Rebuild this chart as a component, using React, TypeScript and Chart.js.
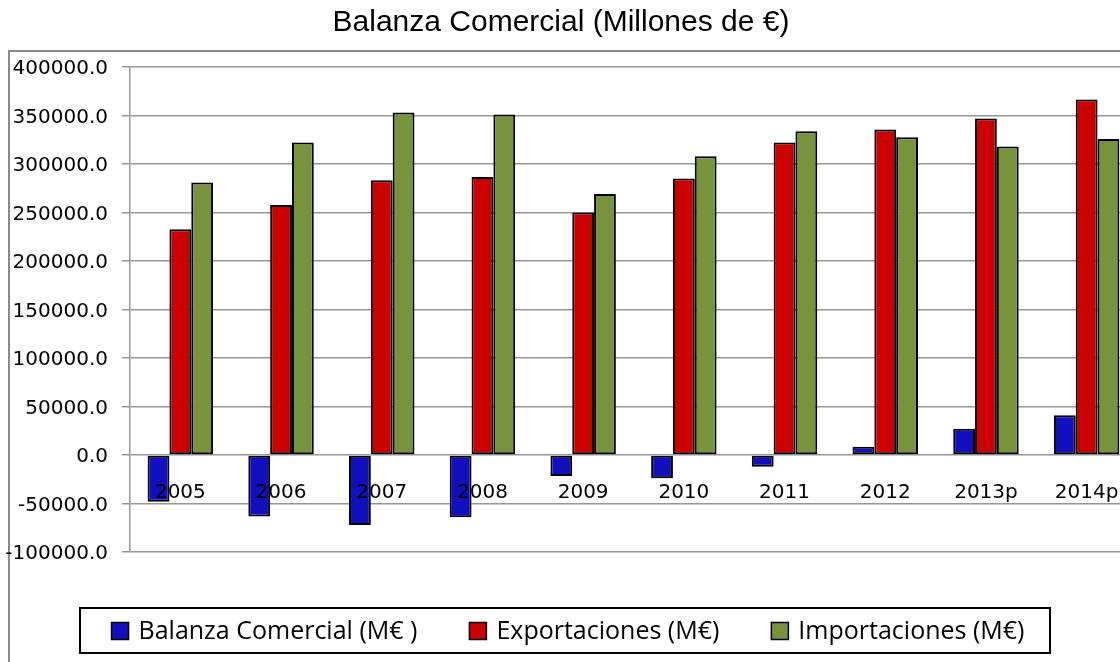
import React, { useEffect, useRef } from "react";
import { Chart, registerables } from "chart.js";

Chart.register(...registerables);

const categories = ["2005", "2006", "2007", "2008", "2009", "2010", "2011", "2012", "2013p", "2014p"];
const balanza = [-48100, -63500, -72100, -64200, -21600, -24000, -12000, 8500, 27100, 40900];
const exportaciones = [232800, 257800, 283300, 286700, 250000, 285000, 322100, 335500, 346800, 366400];
const importaciones = [280900, 322100, 353000, 351000, 269200, 308000, 333700, 327600, 318000, 325800];
const seriesLabels = ["Balanza Comercial (M€ )", "Exportaciones (M€)", "Importaciones (M€)"];
const titleText = "Balanza Comercial (Millones de €)";

const W = 1145;
const H = 662;

const framePlugin = {
  id: "frameAndTitle",
  beforeDraw(chart: any) {
    const ctx = chart.ctx;
    ctx.save();
    ctx.fillStyle = "#ffffff";
    ctx.fillRect(0, 0, chart.width, chart.height);
    ctx.strokeStyle = "#8a8a8a";
    ctx.lineWidth = 2;
    ctx.beginPath();
    ctx.moveTo(9, H + 5);
    ctx.lineTo(9, 51);
    ctx.lineTo(W + 5, 51);
    ctx.stroke();
    ctx.fillStyle = "#000";
    ctx.font = '30px "Liberation Sans", Arial, sans-serif';
    ctx.textAlign = "center";
    ctx.textBaseline = "alphabetic";
    ctx.fillText(titleText, 561, 31);
    ctx.restore();
  },
  afterDraw(chart: any) {
    const ctx = chart.ctx;
    ctx.save();
    ctx.strokeStyle = "#000";
    ctx.lineWidth = 2;
    ctx.strokeRect(80, 608, 970, 45);
    ctx.font = '25px "Open Sans", "Noto Sans", sans-serif';
    ctx.textBaseline = "middle";
    ctx.textAlign = "left";
    const ds = chart.data.datasets;
    const box = 17;
    const gapBT = 10;
    const gapItems = 52;
    const widths = ds.map((d: any) => box + gapBT + ctx.measureText(d.label).width);
    const total = widths.reduce((a: number, b: number) => a + b, 0) + gapItems * (ds.length - 1);
    let x = 568 - total / 2;
    const cy = 631;
    ds.forEach((d: any, i: number) => {
      ctx.fillStyle = d.backgroundColor;
      ctx.fillRect(x, cy - box / 2, box, box);
      ctx.lineWidth = 1.5;
      ctx.strokeStyle = "#000";
      ctx.strokeRect(x, cy - box / 2, box, box);
      ctx.fillStyle = "#000";
      ctx.fillText(d.label, x + box + gapBT, cy + 1);
      x += widths[i] + gapItems;
    });
    ctx.restore();
  },
};

export default function App() {
  const ref = useRef<HTMLCanvasElement>(null);
  useEffect(() => {
    if (!ref.current) return;
    const barCommon = {
      borderColor: "#000000",
      borderWidth: 2,
      borderSkipped: false,
      categoryPercentage: 0.65,
      barPercentage: 1.0,
    };
    const chart = new Chart(ref.current, {
      type: "bar",
      data: {
        labels: categories,
        datasets: [
          { label: seriesLabels[0], data: balanza, backgroundColor: "#1010C0", ...barCommon },
          { label: seriesLabels[1], data: exportaciones, backgroundColor: "#CC0000", ...barCommon },
          { label: seriesLabels[2], data: importaciones, backgroundColor: "#77933C", ...barCommon },
        ],
      } as any,
      options: {
        animation: false,
        responsive: false,
        devicePixelRatio: 1,
        layout: { padding: { left: 0, top: 67, right: W - 1137, bottom: H - 552 } },
        plugins: {
          legend: { display: false },
          title: { display: false },
          tooltip: { enabled: false },
        },
        scales: {
          x: {
            type: "category",
            position: { y: 0 } as any,
            offset: true,
            grid: { display: false, drawTicks: false },
            border: { display: false },
            ticks: {
              z: 1,
              padding: 26,
              color: "#000",
              maxRotation: 0,
              autoSkip: false,
              font: { family: '"DejaVu Sans", sans-serif', size: 20 },
            },
          },
          y: {
            min: -100000,
            max: 400000,
            afterFit: (scale: any) => {
              scale.width = 130;
            },
            grid: { color: "#969696", lineWidth: 1.5, drawTicks: true, tickLength: 8 },
            border: { display: true, color: "#969696", width: 1.5 },
            ticks: {
              stepSize: 50000,
              padding: 14,
              color: "#000",
              labelOffset: 2,
              font: { family: '"DejaVu Sans", sans-serif', size: 20 },
              callback: (v: any) => Number(v).toFixed(1),
            },
          },
        },
      } as any,
      plugins: [framePlugin],
    });
    return () => chart.destroy();
  }, []);
  return (
    <div style={{ position: "fixed", left: 0, top: 0, width: 1120, height: 662, overflow: "hidden", background: "#fff" }}>
      <canvas ref={ref} width={W} height={H} style={{ width: W, height: H, display: "block" }} />
    </div>
  );
}
